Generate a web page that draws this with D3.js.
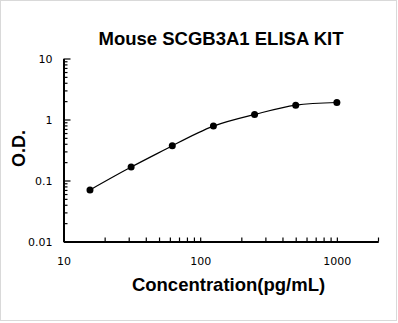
<!DOCTYPE html>
<html>
<head>
<meta charset="utf-8">
<script src="https://cdn.jsdelivr.net/npm/d3@7"></script>
<style>
  body { margin: 0; background: #fff; }
  .tick text { font-family: "DejaVu Sans", sans-serif; font-size: 11px; fill: #000; }
  .title { font-family: "Liberation Sans", Arial, sans-serif; font-weight: bold; fill: #000; }
</style>
</head>
<body>
<div id="chart"></div>
<script>
// standard curve data
var concentration = [15.625, 31.25, 62.5, 125, 250, 500, 1000];
var od = [0.070, 0.166, 0.371, 0.78, 1.21, 1.72, 1.90];
var xTickLabels = [10, 100, 1000];
var yTickLabels = [0.01, 0.1, 1, 10];

var svgWidth = 398, svgHeight = 323;
var margin = { top: 58.5, left: 63.5, right: 20, bottom: 81 };
var chartWidth = 378 - margin.left;
var chartHeight = 241.5 - margin.top;

var svg = d3.select("#chart")
    .append("svg")
    .attr("width", svgWidth)
    .attr("height", svgHeight);

// outer frame
svg.append("rect")
    .attr("x", 0.5).attr("y", 0.5)
    .attr("width", 396).attr("height", 320)
    .attr("fill", "white")
    .attr("stroke", "#d9d9d9");

var chartGroup = svg.append("g")
    .attr("transform", `translate(${margin.left},${margin.top})`);

var xScale = d3.scaleLog()
    .domain([10, 2000])
    .range([0, chartWidth]);

var yScale = d3.scaleLog()
    .domain([0.01, 10])
    .range([chartHeight, 0]);

// minor ticks (all decade steps)
var xMinor = [];
for (var d = 10; d < 2000; d *= 10) {
    for (var k = 2; k <= 9; k++) if (d * k <= 2000) xMinor.push(d * k);
}
var yMinor = [];
for (var e = 0.01; e < 9; e *= 10) {
    for (var m = 2; m <= 9; m++) yMinor.push(e * m);
}

// x axis: ticks pointing up into the plot
chartGroup.append("g")
    .attr("transform", `translate(0,${chartHeight})`)
    .call(d3.axisBottom(xScale).tickValues(xMinor).tickSize(-4).tickSizeOuter(0).tickFormat(""));
chartGroup.append("g")
    .attr("transform", `translate(0,${chartHeight})`)
    .call(d3.axisBottom(xScale).tickValues(xTickLabels).tickSize(-4).tickSizeOuter(0)
        .tickPadding(16).tickFormat(d3.format("d")));

// y axis: ticks pointing right into the plot
chartGroup.append("g")
    .call(d3.axisLeft(yScale).tickValues(yMinor).tickSize(-4).tickSizeOuter(0).tickFormat(""));
chartGroup.append("g")
    .call(d3.axisLeft(yScale).tickValues(yTickLabels).tickSize(-7).tickSizeOuter(0)
        .tickPadding(11).tickFormat(d => d < 1 ? String(d) : d3.format("d")(d)));

chartGroup.selectAll(".domain").attr("stroke", "#000").attr("stroke-width", 2);
chartGroup.selectAll(".tick line").attr("stroke", "#000").attr("stroke-width", 1.2);

// fitted curve through the points
var pts = concentration.map((c, i) => [c, od[i]]);
var line = d3.line()
    .x(d => xScale(d[0]))
    .y(d => yScale(d[1]))
    .curve(d3.curveNatural);

chartGroup.append("path")
    .datum(pts)
    .attr("d", line)
    .attr("fill", "none")
    .attr("stroke", "#000")
    .attr("stroke-width", 1.2);

chartGroup.append("g")
    .selectAll("circle")
    .data(pts)
    .enter()
    .append("circle")
        .attr("cx", d => xScale(d[0]))
        .attr("cy", d => yScale(d[1]))
        .attr("r", 3.5)
        .attr("fill", "#000");

// titles
svg.append("text")
    .attr("class", "title")
    .attr("x", 221).attr("y", 44.5)
    .attr("text-anchor", "middle")
    .style("font-size", "18.5px")
    .text("Mouse SCGB3A1 ELISA KIT");

svg.append("text")
    .attr("class", "title")
    .attr("x", 228.5).attr("y", 291)
    .attr("text-anchor", "middle")
    .style("font-size", "18.5px")
    .text("Concentration(pg/mL)");

svg.append("text")
    .attr("class", "title")
    .attr("transform", "translate(25,148.5) rotate(-90)")
    .attr("text-anchor", "middle")
    .style("font-size", "18px")
    .text("O.D.");
</script>
</body>
</html>
